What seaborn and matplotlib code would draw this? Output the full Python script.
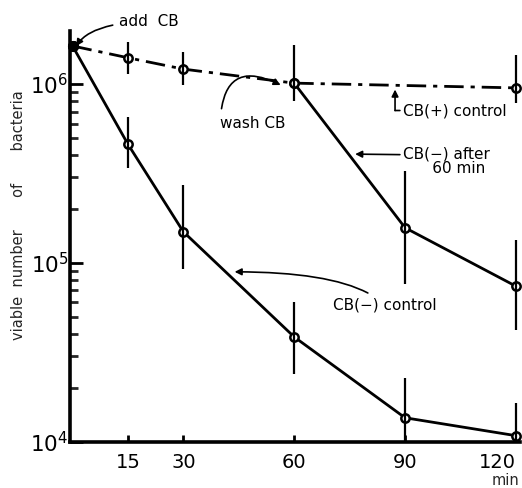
import numpy as np
import pandas as pd
import matplotlib
matplotlib.use("Agg")
import matplotlib.pyplot as plt
import seaborn as sns
from matplotlib.ticker import LogLocator, NullFormatter, FixedLocator

# ---- data ----
start_time = [0]
start_value = [1.63e6]

plus_time = [0, 15, 30, 60, 120]
plus_value = [1.63e6, 1.40e6, 1.21e6, 1.01e6, 0.95e6]
plus_err_time = [15, 30, 60, 120]
plus_err_lo = [1.14e6, 0.99e6, 0.80e6, 0.78e6]
plus_err_hi = [1.72e6, 1.51e6, 1.66e6, 1.45e6]

minus_time = [0, 15, 30, 60, 90, 120]
minus_value = [1.63e6, 4.6e5, 1.49e5, 3.85e4, 1.36e4, 1.08e4]
minus_err_time = [15, 30, 60, 90, 120]
minus_err_lo = [3.4e5, 9.2e4, 2.4e4, 1.0e4, 1.0e4]
minus_err_hi = [6.5e5, 2.73e5, 6.0e4, 2.26e4, 1.64e4]

after_time = [60, 90, 120]
after_value = [1.01e6, 1.57e5, 7.4e4]
after_err_time = [90, 120]
after_err_lo = [7.6e4, 4.2e4]
after_err_hi = [3.24e5, 1.34e5]

x_ticks = [15, 30, 60, 90, 120]
x_tick_labels = ["15", "30", "60", "90", "120"]
y_ticks = [1e4, 1e5, 1e6]
y_tick_labels = [r"$10^4$", r"$10^5$", r"$10^6$"]

sns.set_style("ticks")
plt.rcParams["font.family"] = ["DejaVu Sans"]
plt.rcParams["mathtext.default"] = "regular"

fig = plt.figure(figsize=(5.22, 4.88), dpi=100)
ax = fig.add_axes([0.134, 0.095, 0.862, 0.841])

lw = 2.0
mk = dict(marker="o", markersize=6, markerfacecolor="white",
          markeredgecolor="black", markeredgewidth=1.8)

sns.lineplot(x=plus_time, y=plus_value, ax=ax, color="black", lw=lw,
             linestyle=(0, (7, 2.5, 1.5, 2.5)), clip_on=False, **mk)
sns.lineplot(x=minus_time, y=minus_value, ax=ax, color="black", lw=lw,
             clip_on=False, **mk)
sns.lineplot(x=after_time, y=after_value, ax=ax, color="black", lw=lw,
             clip_on=False, **mk)

ax.vlines(plus_err_time, plus_err_lo, plus_err_hi, color="black", lw=1.6, clip_on=False)
ax.vlines(minus_err_time, minus_err_lo, minus_err_hi, color="black", lw=1.6, clip_on=False)
ax.vlines(after_err_time, after_err_lo, after_err_hi, color="black", lw=1.6, clip_on=False)

sns.scatterplot(x=start_time, y=start_value, ax=ax, color="black", s=55,
                zorder=5, clip_on=False, edgecolor="black")

ax.set_yscale("log")
ax.set_xlim(-0.7, 121.1)
ax.set_ylim(1e4, 1.97e6)

ax.xaxis.set_major_locator(FixedLocator(x_ticks))
ax.set_xticklabels(x_tick_labels, fontsize=14)
ax.get_xticklabels()[-1].set_horizontalalignment("right")
ax.yaxis.set_major_locator(FixedLocator(y_ticks))
ax.set_yticklabels(y_tick_labels, fontsize=15.5)
ax.yaxis.set_minor_locator(LogLocator(base=10, subs=np.arange(2, 10)))
ax.yaxis.set_minor_formatter(NullFormatter())

ax.tick_params(axis="y", which="major", direction="in", length=9, width=2,
               color="black", labelcolor="black", pad=1)
ax.tick_params(axis="y", which="minor", direction="in", length=6, width=2)
ax.tick_params(axis="x", which="major", direction="in", length=5, width=2,
               color="black", labelcolor="black", pad=8)

for s in ["top", "right"]:
    ax.spines[s].set_visible(False)
for s in ["left", "bottom"]:
    ax.spines[s].set_linewidth(2.6)
    ax.spines[s].set_color("black")

fig.text(0.036, 0.559, "viable  number       of       bacteria", fontsize=10.5,
         rotation=90, ha="center", va="center")
fig.text(0.968, 0.0, "min", fontsize=10.5, ha="center", va="bottom")

tkw = dict(fontsize=11, color="black", annotation_clip=False)
ap = dict(arrowstyle="-|>", color="black", lw=1.2, mutation_scale=10)

ax.annotate("add  CB", xy=(0.8, 1.6e6), xytext=(12.5, 2.22e6), va="center",
            arrowprops=dict(ap, connectionstyle="angle3,angleA=180,angleB=60", shrinkA=2, shrinkB=1), **tkw)
ax.annotate("wash CB", xy=(57, 0.97e6), xytext=(40, 6.0e5), va="center",
            arrowprops=dict(ap, connectionstyle="arc3,rad=-0.8", relpos=(0, 0.5),
                            shrinkA=3, shrinkB=2), **tkw)
ax.annotate("", xy=(87.3, 9.3e5), xytext=(87.3, 7.1e5),
            arrowprops=dict(ap, shrinkA=0, shrinkB=0), annotation_clip=False)
ax.annotate("CB(+) control", xy=(87.3, 7.1e5), xytext=(89.5, 7.1e5), va="center",
            arrowprops=dict(arrowstyle="-", color="black", lw=1.2, shrinkA=0, shrinkB=0), **tkw)
ax.annotate("CB(−) after\n      60 min", xy=(76.5, 4.05e5), xytext=(89.5, 3.7e5),
            va="center", linespacing=0.95,
            arrowprops=dict(ap, shrinkA=0, shrinkB=0, relpos=(0, 0.72)), **tkw)
ax.annotate("CB(−) control", xy=(43.5, 8.9e4), xytext=(70.5, 5.8e4), va="center",
            arrowprops=dict(ap, connectionstyle="angle3,angleA=135,angleB=0", shrinkA=2, shrinkB=1), **tkw)

fig.savefig("out.png", dpi=100)
